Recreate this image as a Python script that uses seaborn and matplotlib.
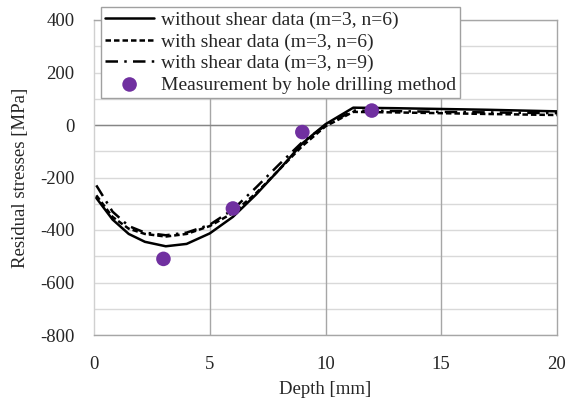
import matplotlib
matplotlib.use("Agg")
import matplotlib.pyplot as plt
import seaborn as sns
import numpy as np

# ---- data ----
depth = [0.1, 0.8, 1.5, 2.2, 3.1, 4.0, 5.0, 6.0, 7.0, 8.0, 9.0, 10.0, 11.2, 13.0, 15.0, 17.0, 20.0]
stress_no_shear_n6 = [-278, -360, -415, -445, -462, -453, -413, -350, -265, -170, -70, 3, 66, 64, 61, 58, 52]
stress_shear_n6 = [-268, -350, -395, -415, -425, -415, -385, -335, -260, -170, -80, -5, 50, 48, 45, 42, 38]
stress_shear_n9 = [-230, -330, -385, -410, -420, -410, -380, -322, -238, -150, -65, -2, 55, 53, 50, 48, 45]
meas_depth = [3, 6, 9, 12]
meas_stress = [-510, -318, -27, 55]

labels = ["without shear data (m=3, n=6)",
          "with shear data (m=3, n=6)",
          "with shear data (m=3, n=9)",
          "Measurement by hole drilling method"]
xticks = [0, 5, 10, 15, 20]
yticks = list(range(-800, 401, 100))

sns.set_style("white")
plt.rcParams['font.family'] = ['Liberation Serif', 'DejaVu Serif']
FS = 13.5
plt.rcParams['font.size'] = FS

fig = plt.figure(figsize=(5.72, 4.0), dpi=100)
ax = fig.add_axes([94/572, 65/400, (557-94)/572, (335-20)/400])

# grid
for yv in yticks:
    ax.axhline(yv, color="#d9d9d9", lw=1.0, zorder=0)
for xv in xticks[1:-1]:
    ax.axvline(xv, color="#a6a6a6", lw=1.0, zorder=0)
ax.axhline(0, color="#868686", lw=1.0, zorder=0.5)

sns.lineplot(x=depth, y=stress_no_shear_n6, ax=ax, color="black", lw=1.8,
             label=labels[0], zorder=3)
sns.lineplot(x=depth, y=stress_shear_n6, ax=ax, color="black", lw=1.8,
             linestyle=(0, (2.2, 1.2)), label=labels[1], zorder=3)
sns.lineplot(x=depth, y=stress_shear_n9, ax=ax, color="black", lw=1.8,
             linestyle=(0, (5, 2.5, 1, 2.5)), label=labels[2], zorder=3)
sns.scatterplot(x=meas_depth, y=meas_stress, ax=ax, color="#7030A0", s=110,
                edgecolor="none", label=labels[3], zorder=4)

ax.set_xlim(0, 20)
ax.set_ylim(-800, 400)
ax.set_xticks(xticks)
ax.set_yticks(yticks)
ax.set_yticklabels([str(v) if v % 200 == 0 else "" for v in yticks])
ax.tick_params(axis="x", length=0, pad=15, labelsize=FS)
ax.tick_params(axis="y", length=5, color="#a6a6a6", width=1, pad=9, labelsize=FS)
for sp in ax.spines.values():
    sp.set_color("#a6a6a6")
    sp.set_linewidth(1.0)
ax.spines["left"].set_color("#d0d0d0")

ax.set_xlabel("Depth [mm]", fontsize=FS, labelpad=6)
ax.set_ylabel("Residual stresses [MPa]", fontsize=FS, labelpad=8)

LFS = 14
leg = ax.legend(loc="upper left", bbox_to_anchor=(101/572, 1 - 7/400),
                bbox_transform=fig.transFigure, frameon=True, fancybox=False,
                edgecolor="#a0a0a0", framealpha=1, fontsize=LFS,
                handlelength=2.5, handletextpad=0.35, labelspacing=0.2,
                borderpad=0.22, borderaxespad=0)
leg.get_frame().set_linewidth(1.0)
leg.set_zorder(10)

fig.savefig("out.png", dpi=100)
